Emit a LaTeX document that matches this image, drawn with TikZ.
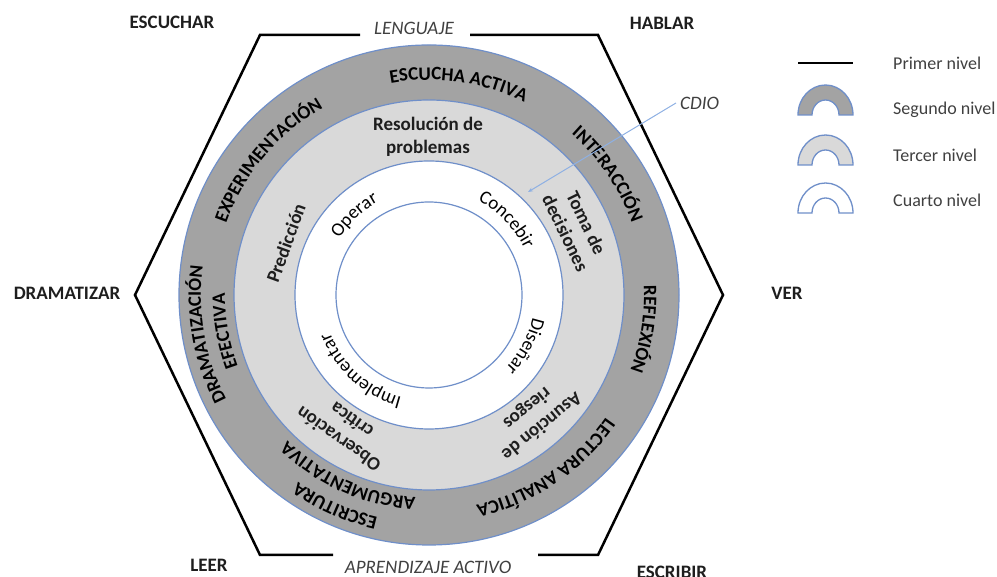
\documentclass[tikz,border=0pt]{standalone}
\usepackage{fontspec}
\setmainfont{Carlito}
\usetikzlibrary{decorations.text,arrows.meta}
\definecolor{darkg}{HTML}{A3A3A3}
\definecolor{lightg}{HTML}{D9D9D9}
\definecolor{ringblue}{HTML}{6F8FC9}
\definecolor{cdioblue}{HTML}{8EB0E3}
\definecolor{txt}{HTML}{1E1E1E}
\newcommand\ringtxt[5]{\path[decorate,decoration={text along path,text align=center,text={|\fontsize{19}{23}\selectfont#5|#4}}] (C) ++(#2+#3:#1) arc[start angle=#2+#3,end angle=#2-#3,radius=#1];}
\tikzset{
  lab/.style={font=\fontsize{19}{23}\selectfont\bfseries,inner sep=0pt,text=txt},
  itl/.style={font=\fontsize{19}{23}\selectfont\itshape,inner sep=0pt,text=txt!85},
  leg/.style={font=\fontsize{18}{22}\selectfont,inner sep=0pt,text=txt!85,anchor=west},
  mid/.style={font=\fontsize{19}{23}\selectfont\bfseries,inner sep=0pt,align=center,text=txt},
  ring/.style={draw=ringblue,line width=1.2pt},
  hexline/.style={line width=2.5pt,line join=miter},
  legarch/.style={draw=ringblue,line width=1.3pt}
}
\begin{document}
\begin{tikzpicture}[x=1pt,y=1pt]
\useasboundingbox (0,0) rectangle (997,577);
\coordinate (C) at (429,282);
% rings
\draw[ring,fill=darkg] (C) circle[radius=250];
\draw[ring,fill=lightg] (C) circle[radius=195];
\draw[ring,fill=white] (C) circle[radius=134];
\draw[ring] (C) circle[radius=93];
% hexagon
\coordinate (TL) at (260,542);
\coordinate (TR) at (598,542);
\coordinate (R) at (723,282);
\coordinate (BR) at (598,22);
\coordinate (BL) at (260,22);
\coordinate (L) at (135,282);
\coordinate (tg1) at (360,542);
\coordinate (tg2) at (470,542);
\coordinate (bg1) at (333,22);
\coordinate (bg2) at (538,22);
\draw[hexline] (tg2) -- (TR) -- (R) -- (BR) -- (bg2);
\draw[hexline] (bg1) -- (BL) -- (L) -- (TL) -- (tg1);
% corner labels
\node[lab] (escuchar) at (172,555) {ESCUCHAR};
\node[lab] (hablar) at (662,554) {HABLAR};
\node[lab] (dramatizar) at (67,284) {DRAMATIZAR};
\node[lab] (ver) at (787,284) {VER};
\node[lab] (leer) at (209,12) {LEER};
\node[lab] (escribir) at (672,5) {ESCRIBIR};
\node[itl] (lenguaje) at (414,549) {LENGUAJE};
\node[itl] (aprend) at (428,10) {APRENDIZAJE ACTIVO};
% second level (dark ring)
\ringtxt{215}{82}{60}{ESCUCHA ACTIVA}{\bfseries}
\ringtxt{215}{140}{50}{EXPERIMENTACIÓN}{\bfseries}
\ringtxt{215}{34}{40}{INTERACCIÓN}{\bfseries}
\ringtxt{215}{-9}{40}{REFLEXIÓN}{\bfseries}
\ringtxt{215}{-56}{50}{LECTURA ANALÍTICA}{\bfseries}
\ringtxt{228}{190}{50}{DRAMATIZACIÓN}{\bfseries}
\ringtxt{204}{190}{50}{EFECTIVA}{\bfseries}
\ringtxt{228}{-114}{50}{ESCRITURA}{\bfseries}
\ringtxt{203}{-114}{50}{ARGUMENTATIVA}{\bfseries}
% third level (light ring)
\node[mid] (resol) at (428,440) {Resolución de\\problemas};
\node[mid,rotate=70] (pred) at (286,334) {Predicción};
\node[mid,rotate=-64] (toma) at (576,349) {Toma de\\decisiones};
\node[mid,rotate=-141] (asun) at (534,160) {Asunción de\\riesgos};
\node[mid,rotate=145] (obs) at (345,147) {Observación\\crítica};
% fourth level (white ring)
\ringtxt{106}{133}{40}{Operar}{\mdseries}
\ringtxt{106}{44}{40}{Concebir}{\mdseries}
\ringtxt{106}{-28}{40}{Diseñar}{\mdseries}
\ringtxt{106}{-132}{50}{Implementar}{\mdseries}
% CDIO
\node[itl,anchor=west,inner sep=4pt] (cdio) at (676,474) {CDIO};
\coordinate (cdioend) at (528,385);
\draw[cdioblue,line width=1pt,-{Stealth[length=5pt,width=4pt]}] (cdio.west) -- (cdioend);
% legend
\coordinate (l1a) at (798,514);
\coordinate (l1b) at (853,514);
\draw[line width=2.5pt] (l1a) -- (l1b);
\node[leg] (prim) at (893,514) {Primer nivel};
\draw[legarch,fill=darkg] (798,462) arc[start angle=180,end angle=0,x radius=27.5,y radius=30] -- ++(-14,0) arc[start angle=0,end angle=180,x radius=13.5,y radius=15] -- cycle;
\node[leg] (seg) at (893,467) {Segundo nivel};
\draw[legarch,fill=lightg] (798,412) arc[start angle=180,end angle=0,x radius=27.5,y radius=30] -- ++(-14,0) arc[start angle=0,end angle=180,x radius=13.5,y radius=15] -- cycle;
\node[leg] (ter) at (893,422) {Tercer nivel};
\draw[legarch,fill=white] (798,364) arc[start angle=180,end angle=0,x radius=27.5,y radius=30] -- ++(-14,0) arc[start angle=0,end angle=180,x radius=13.5,y radius=15] -- cycle;
\node[leg] (cua) at (893,377) {Cuarto nivel};
\end{tikzpicture}
\end{document}
